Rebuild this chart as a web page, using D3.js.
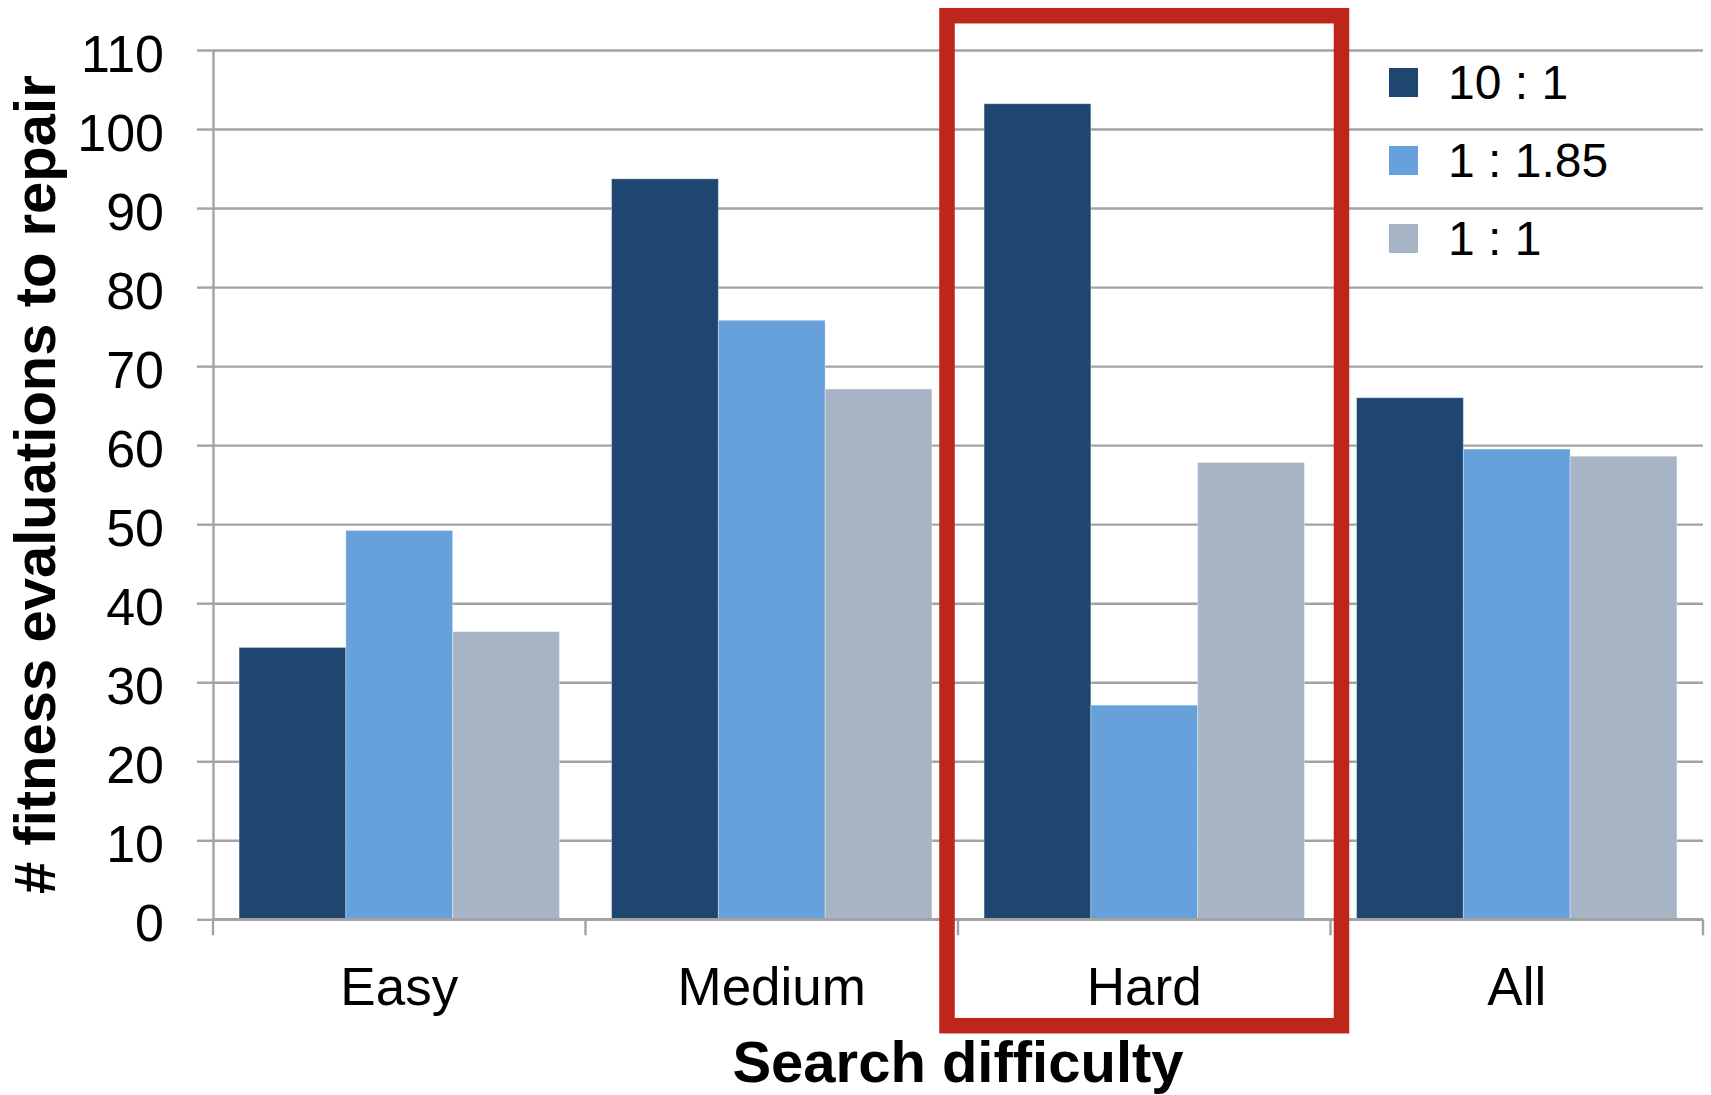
<!DOCTYPE html>
<html>
<head>
<meta charset="utf-8">
<script src="https://cdn.jsdelivr.net/npm/d3@7"></script>
<style>
  html, body { margin: 0; padding: 0; background: #fff; }
  svg { display: block; font-family: "Liberation Sans", Arial, Helvetica, sans-serif; }
</style>
</head>
<body>
<svg id="chart" width="1711" height="1095"></svg>
<script>
// Categories and series
const categories = ["Easy", "Medium", "Hard", "All"];
const seriesNames = ["10 : 1", "1 : 1.85", "1 : 1"];
const ratio10to1 = [34.4, 93.7, 103.2, 66.0];
const ratio1to185 = [49.2, 75.8, 27.1, 59.5];
const ratio1to1 = [36.4, 67.1, 57.8, 58.6];
const yTicks = [0, 10, 20, 30, 40, 50, 60, 70, 80, 90, 100, 110];
const highlighted = "Hard";

const seriesValues = [ratio10to1, ratio1to185, ratio1to1];
const colors = ["#1E4670", "#66A1DC", "#A7B4C5"];

const svg = d3.select("#chart");
const plot = { left: 213, right: 1703, top: 50, bottom: 919.3 };
const plotW = plot.right - plot.left;
const gridColor = "#A3A3A3";

const x = d3.scaleBand().domain(categories).range([plot.left, plot.right]).paddingInner(0).paddingOuter(0);
const groupPad = x.bandwidth() * 0.07;
const x1 = d3.scaleBand().domain(seriesNames).range([groupPad, x.bandwidth() - groupPad]).padding(0);
const y = d3.scaleLinear().domain([0, 110]).range([plot.bottom, plot.top]);
const color = d3.scaleOrdinal().domain(seriesNames).range(colors);

// Horizontal gridlines
svg.append("g")
  .attr("transform", `translate(${plot.left},0)`)
  .call(d3.axisLeft(y).tickValues(yTicks).tickSize(-plotW).tickFormat(""))
  .call(g => g.select(".domain").remove())
  .call(g => g.selectAll(".tick line").attr("stroke", gridColor).attr("stroke-width", 2.4));

// Bars
const rows = categories.map((c, i) => ({ cat: c, vals: seriesNames.map((s, j) => ({ s, v: seriesValues[j][i] })) }));
svg.append("g").selectAll("g")
  .data(rows).join("g")
  .attr("transform", d => `translate(${x(d.cat)},0)`)
  .selectAll("rect")
  .data(d => d.vals).join("rect")
  .attr("x", d => x1(d.s))
  .attr("width", x1.bandwidth())
  .attr("y", d => y(d.v))
  .attr("height", d => y(0) - y(d.v))
  .attr("fill", d => color(d.s))
  .attr("stroke", "rgba(255,255,255,0.35)")
  .attr("stroke-width", 1);

// Y axis with outward ticks and labels
svg.append("g")
  .attr("transform", `translate(${plot.left},0)`)
  .call(d3.axisLeft(y).tickValues(yTicks).tickSize(16).tickSizeOuter(0).tickPadding(33))
  .call(g => g.select(".domain").attr("stroke", gridColor).attr("stroke-width", 2.4))
  .call(g => g.selectAll(".tick line").attr("stroke", gridColor).attr("stroke-width", 2.4))
  .call(g => g.selectAll(".tick text")
    .attr("font-size", 52).attr("fill", "#000")
    .attr("font-family", "'Liberation Sans', Arial, sans-serif")
    .attr("dy", "0.41em"));

// X axis: baseline, boundary ticks, category labels
const xAxis = svg.append("g");
xAxis.append("line")
  .attr("x1", plot.left).attr("x2", plot.right)
  .attr("y1", y(0)).attr("y2", y(0))
  .attr("stroke", gridColor).attr("stroke-width", 2.4);
const boundaries = categories.map(c => x(c)).concat([x(categories[categories.length - 1]) + x.bandwidth()]);
xAxis.selectAll("line.tick")
  .data(boundaries).join("line")
  .attr("class", "tick")
  .attr("x1", d => d).attr("x2", d => d)
  .attr("y1", y(0)).attr("y2", y(0) + 16)
  .attr("stroke", gridColor).attr("stroke-width", 2.4);
xAxis.selectAll("text")
  .data(categories).join("text")
  .attr("x", d => x(d) + x.bandwidth() / 2)
  .attr("y", 1005)
  .attr("text-anchor", "middle")
  .attr("font-size", 53)
  .attr("fill", "#000")
  .text(d => d);

// Axis titles
svg.append("text")
  .attr("x", (plot.left + plot.right) / 2)
  .attr("y", 1082)
  .attr("text-anchor", "middle")
  .attr("font-size", 58)
  .attr("font-weight", "bold")
  .attr("fill", "#000")
  .text("Search difficulty");

svg.append("text")
  .attr("transform", `translate(55,${(plot.top + plot.bottom) / 2}) rotate(-90)`)
  .attr("text-anchor", "middle")
  .attr("font-size", 58)
  .attr("font-weight", "bold")
  .attr("fill", "#000")
  .text("# fitness evaluations to repair");

// Legend
const legend = svg.append("g").attr("transform", "translate(1389,68)");
const items = legend.selectAll("g")
  .data(seriesNames).join("g")
  .attr("transform", (d, i) => `translate(0,${i * 78})`);
items.append("rect")
  .attr("width", 29).attr("height", 29)
  .attr("fill", d => color(d));
items.append("text")
  .attr("x", 59).attr("y", 30.5)
  .attr("font-size", 48)
  .attr("fill", "#000")
  .text(d => d);

// Highlight frame around the selected category
const frameOut = 11;
svg.append("rect")
  .attr("x", x(highlighted) - frameOut)
  .attr("y", 15.7)
  .attr("width", x.bandwidth() + 2 * frameOut)
  .attr("height", 1010)
  .attr("fill", "none")
  .attr("stroke", "#BE251B")
  .attr("stroke-width", 15.5);
</script>
</body>
</html>
